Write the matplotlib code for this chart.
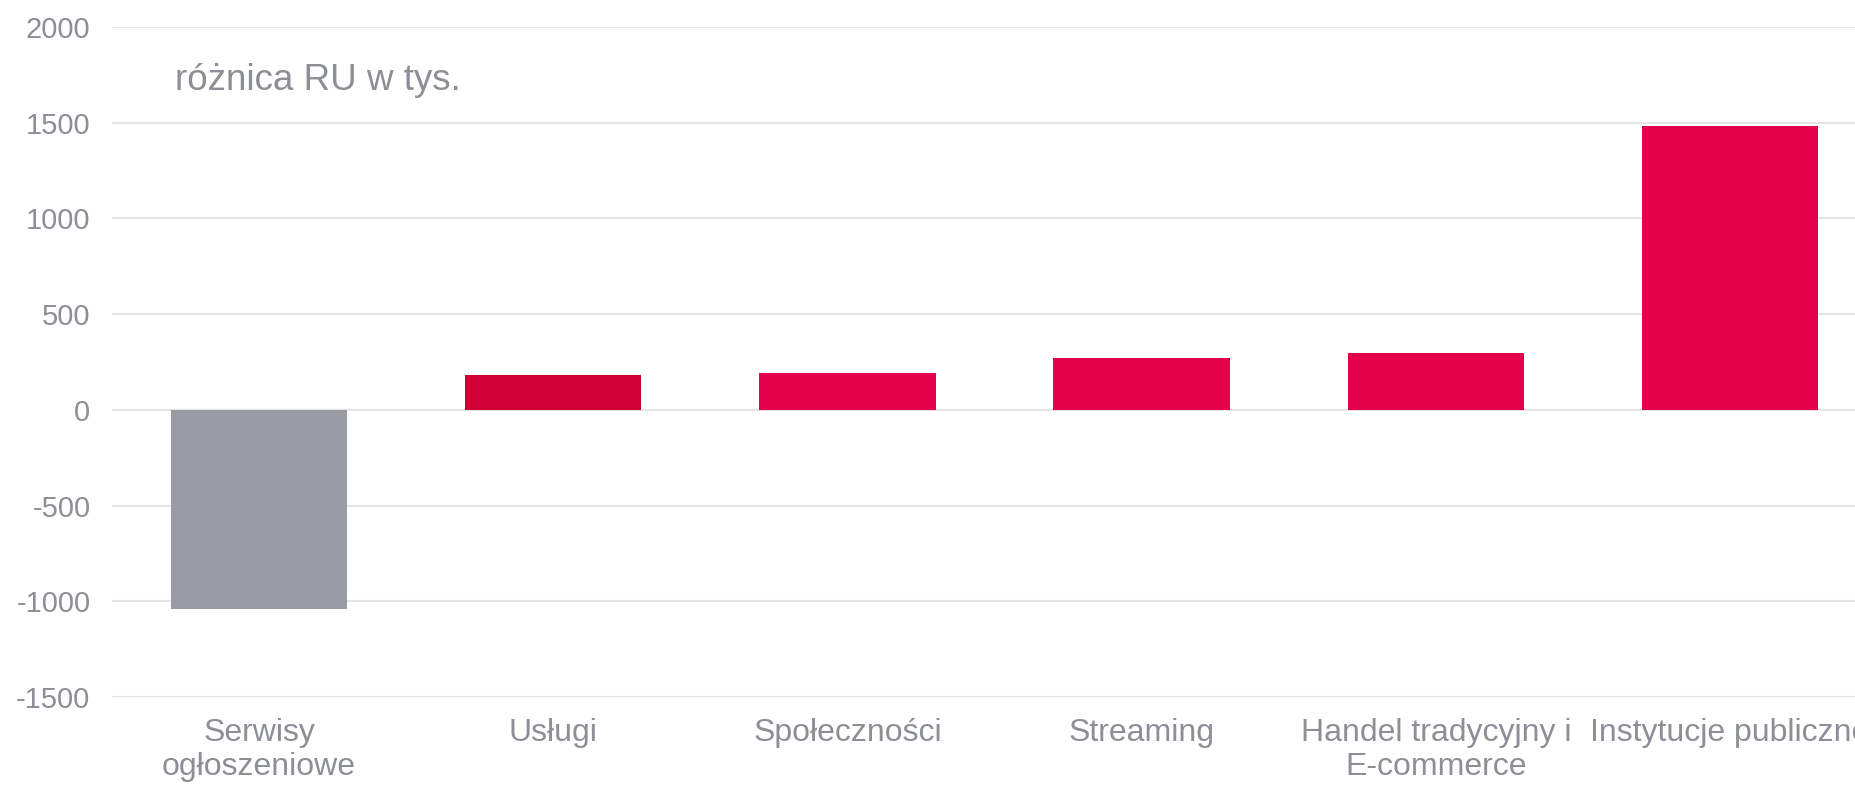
"""Bar chart: change in RU (thousands) by category."""

import matplotlib
matplotlib.use("Agg")
import matplotlib.pyplot as plt

plt.rcParams["font.family"] = ["Liberation Sans", "DejaVu Sans"]

categories = [
    "Serwisy\nogłoszeniowe",
    "Usługi",
    "Społeczności",
    "Streaming",
    "Handel tradycyjny i\nE-commerce",
    "Instytucje publiczne",
]
values = [-1038, 180, 191, 272, 296, 1481]
bar_colors = ["#9a9ca4", "#d00037", "#e4004b", "#e4004b", "#e4004b", "#e4004b"]
y_ticks = [-1500, -1000, -500, 0, 500, 1000, 1500, 2000]

TEXT = "#8c8f96"
GRID = "#e4e4e4"

fig = plt.figure(figsize=(18.56, 7.85), dpi=100)
ax = fig.add_axes([0.0603, 0.1121, 1.0114 - 0.0603, 0.9656 - 0.1121])

x = range(len(categories))
ax.bar(x, values, width=0.6, color=bar_colors, zorder=3)

ax.set_xlim(-0.5, len(categories) - 0.5)
ax.set_ylim(-1500, 2000)
ax.set_yticks(y_ticks)
ax.set_yticklabels([str(t) for t in y_ticks])
ax.set_xticks(list(x))
ax.set_xticklabels(categories, linespacing=1.2)

ax.grid(axis="y", color=GRID, linewidth=1.5, zorder=0)
ax.grid(axis="x", visible=False)
for side in ax.spines.values():
    side.set_visible(False)

ax.tick_params(axis="y", length=0, pad=15.5, labelsize=21, labelcolor=TEXT)
ax.tick_params(axis="x", length=0, pad=15, labelsize=23, labelcolor=TEXT)

fig.text(175 / 1856, 1 - 80 / 785, "różnica RU w tys.", fontsize=26.5,
         color=TEXT, ha="left", va="center")

fig.savefig("out.png", dpi=100)
